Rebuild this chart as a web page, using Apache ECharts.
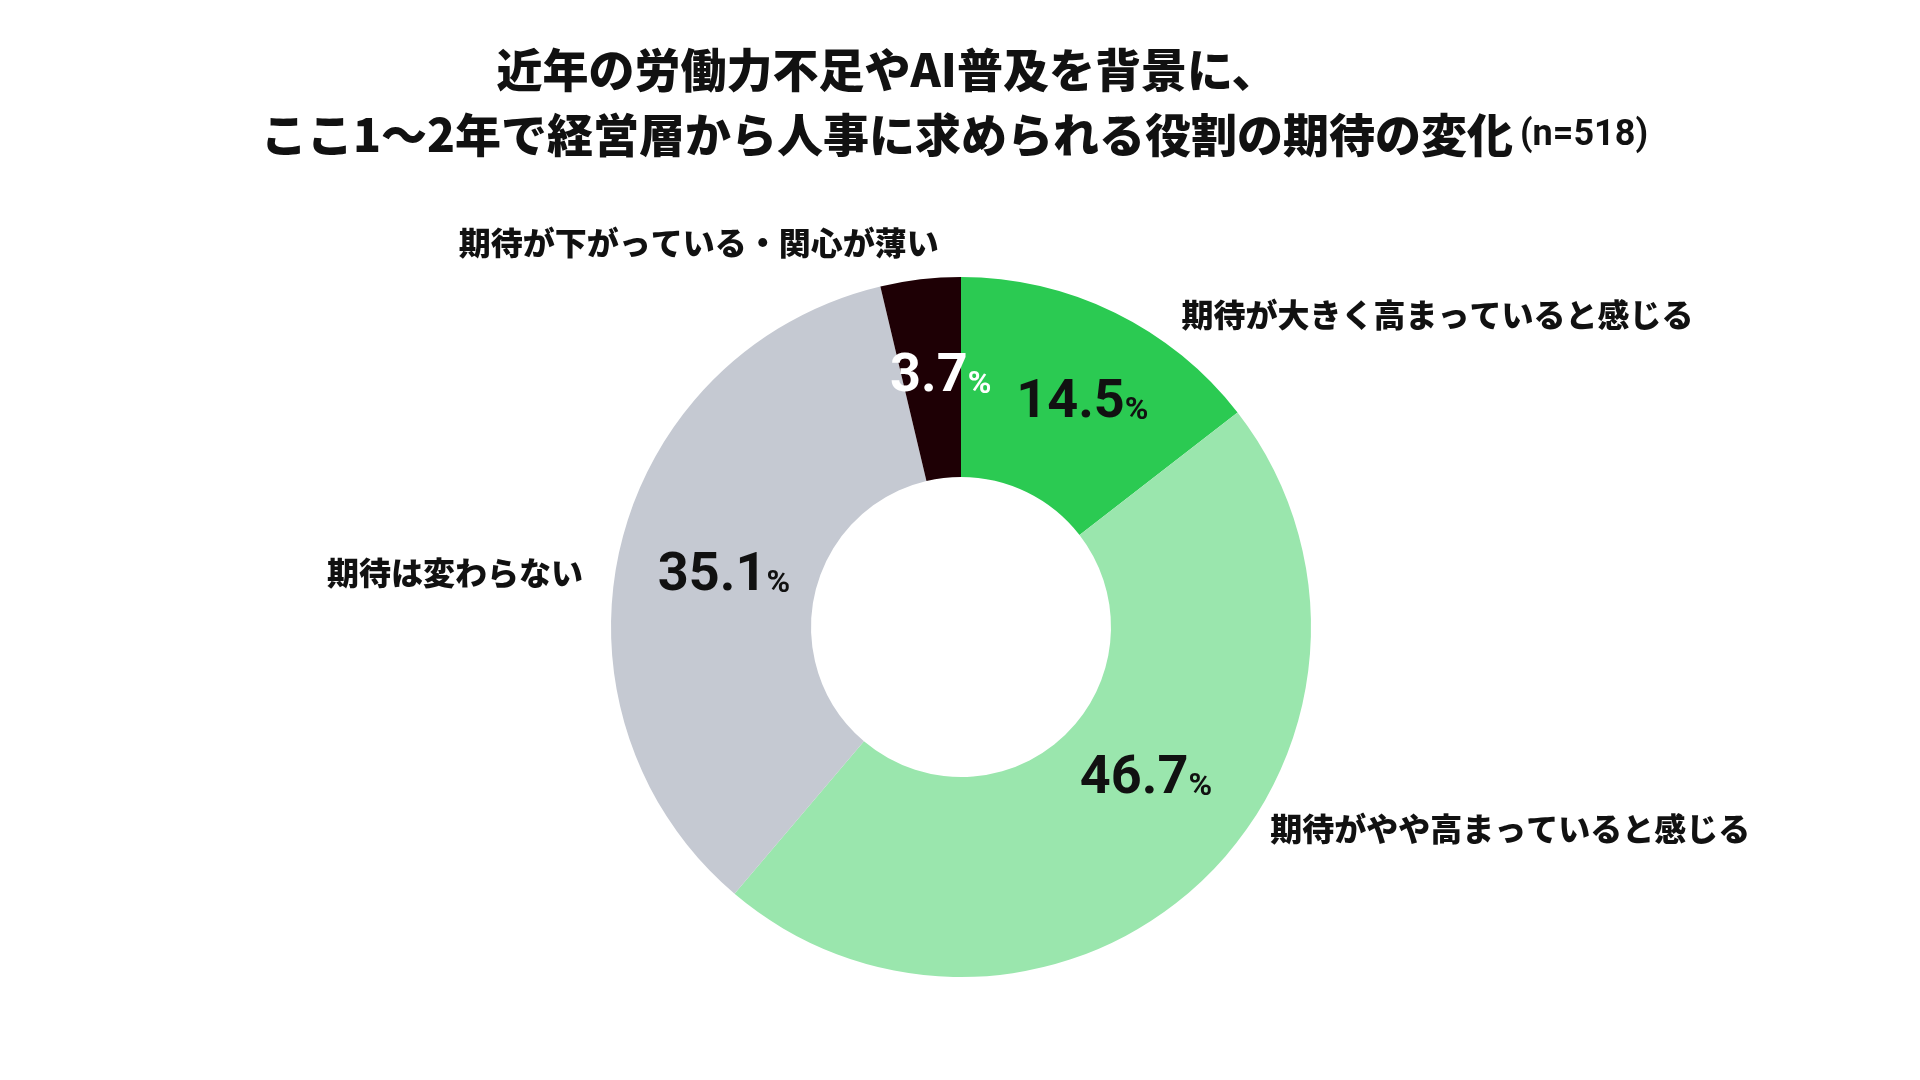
<!DOCTYPE html>
<html>
<head>
<meta charset="utf-8">
<script src="https://cdn.jsdelivr.net/npm/echarts@6/dist/echarts.min.js"></script>
<style>
  html, body { margin: 0; padding: 0; background: #fff; }
  #main { width: 1920px; height: 1080px; }
</style>
</head>
<body>
<div id="main"></div>
<script>
// data
var categories = [
  "期待が大きく高まっていると感じる",
  "期待がやや高まっていると感じる",
  "期待は変わらない",
  "期待が下がっている・関心が薄い"
];
var values = [14.5, 46.7, 35.1, 3.7];
var sampleSize = 518;

var sliceColors = ["#2bca52", "#9ae6ad", "#c5c9d2", "#1e0005"];
var pctColors = ["#111111", "#111111", "#111111", "#ffffff"];

var jp = '"Noto Sans CJK JP", "Noto Sans", sans-serif';
var num = 'Roboto, "Liberation Sans", sans-serif';

// small nudges so the labels sit where the original has them
var pctNudge = [[10, 4], [10, -30], [9, 9], [9, 2]];
var nameNudge = [[25, 16], [22, -62], [12, 31], [55, -22]];

var myChart = echarts.init(document.getElementById("main"));

var pieData = categories.map(function (c, i) {
  return {
    name: c,
    value: values[i],
    label: { color: pctColors[i] }
  };
});
var nameData = categories.map(function (c, i) {
  return { name: c, value: values[i] };
});

var option = {
  backgroundColor: "#ffffff",
  color: sliceColors,
  title: [
    {
      text: "近年の労働力不足やAI普及を背景に、\nここ1〜2年で経営層から人事に求められる役割の期待の変化",
      left: 887,
      top: 37,
      padding: 0,
      textAlign: "center",
      textStyle: {
        fontFamily: jp,
        fontSize: 46,
        fontWeight: 900,
        color: "#111111",
        lineHeight: 65
      }
    },
    {
      text: "(n=" + sampleSize + ")",
      left: 1520,
      top: 118,
      padding: 0,
      textStyle: {
        fontFamily: num,
        fontSize: 36,
        fontWeight: "bold",
        color: "#111111",
        lineHeight: 36
      }
    }
  ],
  series: [
    {
      // transparent copy, only for the category names outside the ring
      type: "pie",
      center: [961, 627],
      radius: [150, 350],
      startAngle: 90,
      clockwise: true,
      silent: true,
      z: 1,
      avoidLabelOverlap: false,
      itemStyle: { color: "rgba(0,0,0,0)" },
      label: {
        show: true,
        position: "outside",
        formatter: "{b}",
        fontFamily: jp,
        fontSize: 32,
        fontWeight: 900,
        color: "#111111"
      },
      labelLine: { show: false },
      labelLayout: function (p) {
        var n = nameNudge[p.dataIndex];
        return { dx: n[0], dy: n[1] };
      },
      data: nameData
    },
    {
      type: "pie",
      center: [961, 627],
      radius: [150, 350],
      startAngle: 90,
      clockwise: true,
      z: 2,
      avoidLabelOverlap: false,
      emphasis: { scale: false },
      itemStyle: { borderWidth: 0 },
      label: {
        show: true,
        position: "inside",
        formatter: "{v|{c}}{p|%}",
        rich: {
          v: {
            fontFamily: num,
            fontSize: 54,
            fontWeight: "bold",
            lineHeight: 58
          },
          p: {
            fontFamily: num,
            fontSize: 32,
            fontWeight: "bold",
            verticalAlign: "bottom",
            lineHeight: 32,
            padding: [0, 0, 6, 0]
          }
        }
      },
      labelLine: { show: false },
      labelLayout: function (p) {
        var n = pctNudge[p.dataIndex];
        return { dx: n[0], dy: n[1] };
      },
      data: pieData
    }
  ]
};
myChart.setOption(option);
</script>
</body>
</html>
